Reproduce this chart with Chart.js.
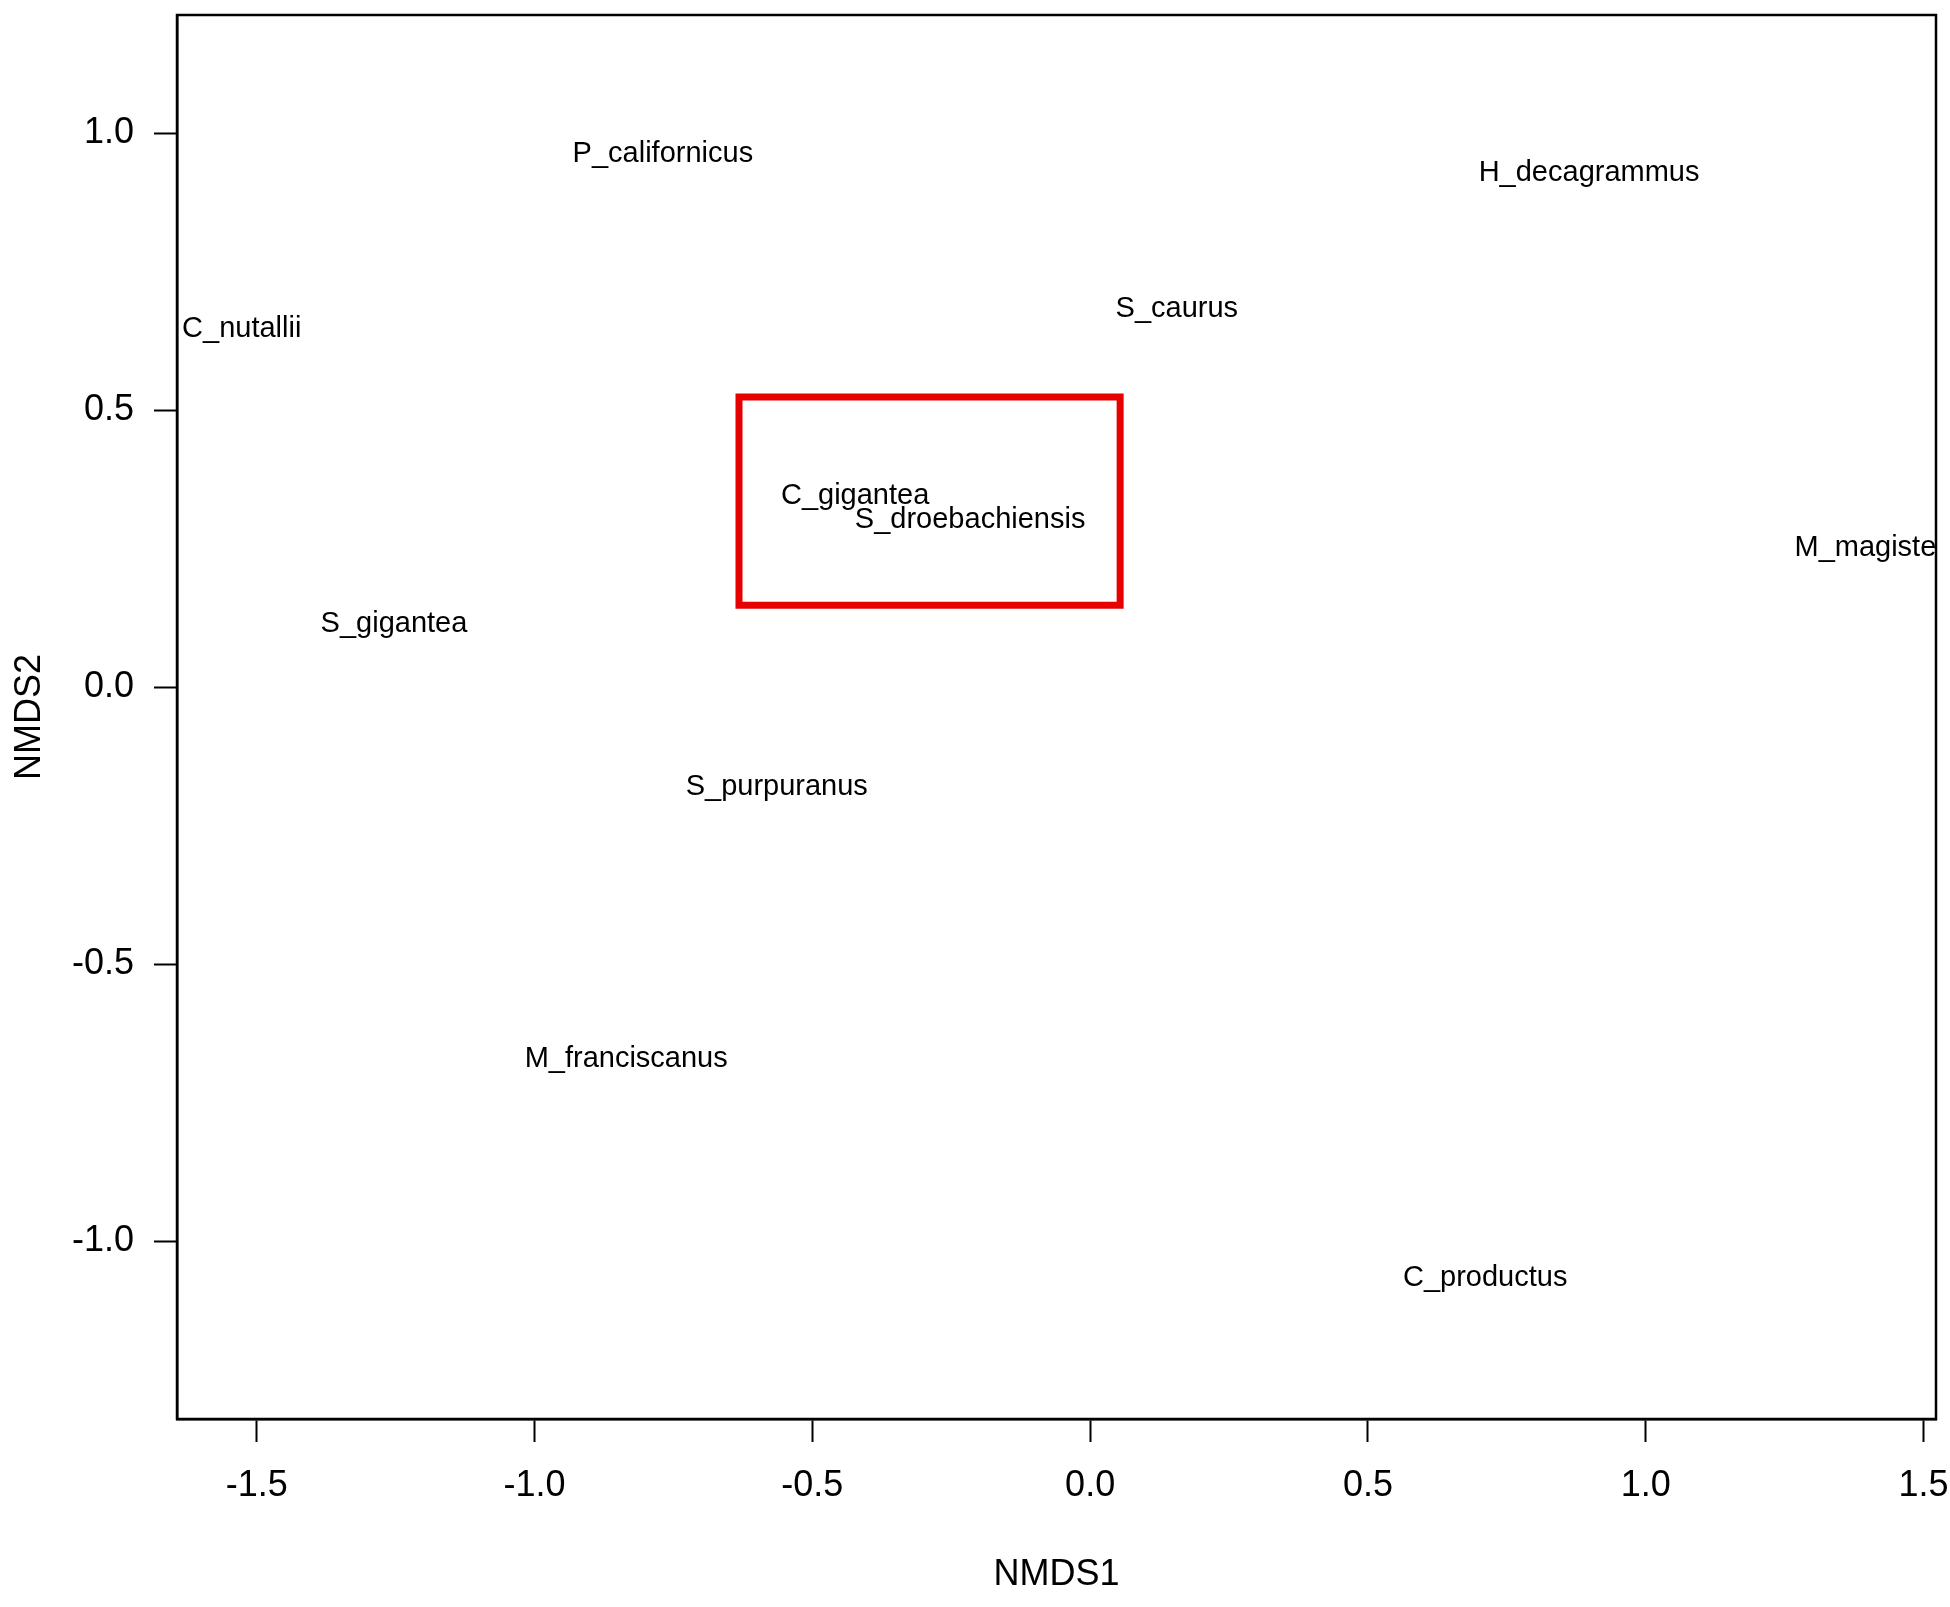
<!DOCTYPE html>
<html>
<head>
<meta charset="utf-8">
<script src="https://cdn.jsdelivr.net/npm/chart.js@4/dist/chart.umd.min.js"></script>
<style>
  html, body { margin: 0; padding: 0; background: #ffffff; }
  #wrap { width: 1950px; height: 1607px; }
</style>
</head>
<body>
<div id="wrap"><canvas id="c" width="1950" height="1607"></canvas></div>
<script>
// ---- data ----
const species = ["P_californicus", "H_decagrammus", "S_caurus", "C_nutallii", "C_gigantea",
                 "S_droebachiensis", "M_magister", "S_gigantea", "S_purpuranus", "M_franciscanus", "C_productus"];
const nmds1 = [-0.769, 0.898, 0.156, -1.527, -0.423, -0.216, 1.404, -1.253, -0.564, -0.835, 0.711];
const nmds2 = [0.962, 0.928, 0.683, 0.647, 0.346, 0.301, 0.252, 0.115, -0.180, -0.672, -1.067];
const xTicks = [-1.5, -1.0, -0.5, 0.0, 0.5, 1.0, 1.5];
const yTicks = [-1.0, -0.5, 0.0, 0.5, 1.0];
const xRange = [-1.6435, 1.5224];
const yRange = [-1.321, 1.2135];
const boxX = [-0.632, 0.054];   // highlighted region (NMDS1)
const boxY = [0.148, 0.524];    // highlighted region (NMDS2)

const FONT = "'Liberation Sans', Arial, sans-serif";

const points = species.map((s, i) => ({ x: nmds1[i], y: nmds2[i], label: s }));
const rectPts = [
  { x: boxX[0], y: boxY[0] }, { x: boxX[1], y: boxY[0] },
  { x: boxX[1], y: boxY[1] }, { x: boxX[0], y: boxY[1] }, { x: boxX[0], y: boxY[0] }
];

const framePlugin = {
  id: 'frame',
  afterDraw(chart) {
    const { ctx, chartArea: a } = chart;
    ctx.save();
    ctx.strokeStyle = '#000';
    ctx.lineWidth = 2.5;
    ctx.strokeRect(a.left, a.top, a.right - a.left, a.bottom - a.top);
    ctx.restore();
  }
};

const labelPlugin = {
  id: 'pointLabels',
  afterDatasetsDraw(chart) {
    const { ctx, chartArea: a } = chart;
    const meta = chart.getDatasetMeta(0);
    ctx.save();
    ctx.beginPath();
    ctx.rect(a.left, a.top, a.right - a.left, a.bottom - a.top);
    ctx.clip();
    ctx.fillStyle = '#000';
    ctx.font = '29px ' + FONT;
    ctx.textAlign = 'center';
    ctx.textBaseline = 'middle';
    meta.data.forEach((el, i) => {
      ctx.fillText(points[i].label, el.x, el.y);
    });
    ctx.restore();
  }
};

new Chart(document.getElementById('c'), {
  type: 'scatter',
  data: {
    datasets: [
      { data: points, pointRadius: 0, pointHoverRadius: 0, showLine: false },
      { data: rectPts, showLine: true, borderColor: '#e60000', borderWidth: 7,
        pointRadius: 0, fill: false, tension: 0, borderJoinStyle: 'miter', borderCapStyle: 'square' }
    ]
  },
  options: {
    responsive: false,
    animation: false,
    devicePixelRatio: 1,
    layout: { padding: { left: 8, top: 15, right: 14, bottom: 0 } },
    plugins: { legend: { display: false }, tooltip: { enabled: false } },
    scales: {
      x: {
        type: 'linear', min: xRange[0], max: xRange[1],
        afterBuildTicks(s) { s.ticks = xTicks.map(v => ({ value: v })); },
        afterFit(s) { s.height = 1607 - 1419; s.paddingLeft = 0; s.paddingRight = 0; },
        grid: { drawOnChartArea: false, drawTicks: true, tickLength: 23, tickColor: '#000', tickWidth: 2 },
        border: { display: true, color: '#000', width: 2.5 },
        ticks: { color: '#000', font: { family: FONT, size: 36 }, padding: 22,
                 maxRotation: 0, autoSkip: false, callback: v => Number(v).toFixed(1) },
        title: { display: true, text: 'NMDS1', color: '#000', font: { family: FONT, size: 36 },
                 padding: { top: 0, bottom: 10 } }
      },
      y: {
        type: 'linear', min: yRange[0], max: yRange[1],
        afterBuildTicks(s) { s.ticks = yTicks.map(v => ({ value: v })); },
        afterFit(s) { s.width = 169; s.paddingTop = 0; s.paddingBottom = 0; },
        grid: { drawOnChartArea: false, drawTicks: true, tickLength: 23, tickColor: '#000', tickWidth: 2 },
        border: { display: true, color: '#000', width: 2.5 },
        ticks: { color: '#000', font: { family: FONT, size: 36 }, padding: 20,
                 autoSkip: false, callback: v => Number(v).toFixed(1) },
        title: { display: true, text: 'NMDS2', color: '#000', font: { family: FONT, size: 36 },
                 padding: { top: 0, bottom: 0 } }
      }
    }
  },
  plugins: [framePlugin, labelPlugin]
});
</script>
</body>
</html>
